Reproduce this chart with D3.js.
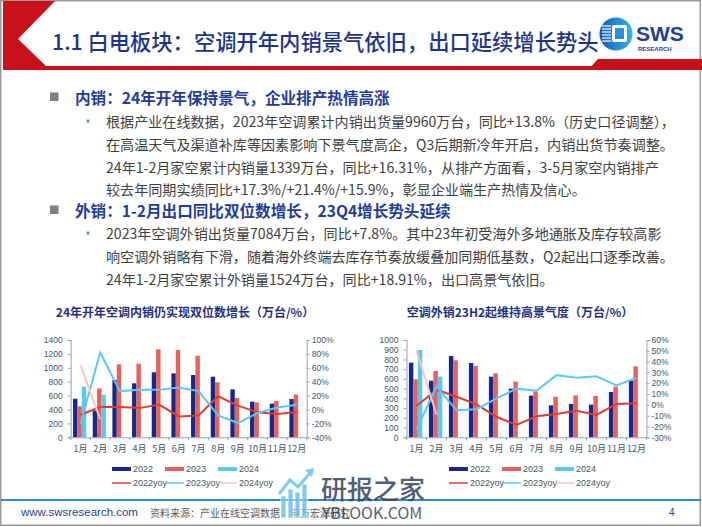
<!DOCTYPE html>
<html>
<head>
<meta charset="utf-8">
<script src="https://cdn.jsdelivr.net/npm/d3@7"></script>
<style>
  body { margin: 0; background: #fff; }
  svg { display: block; }
</style>
</head>
<body>
<script>
const months = ["1月", "2月", "3月", "4月", "5月", "6月", "7月", "8月", "9月", "10月", "11月", "12月"]
const years = ["2022", "2023", "2024"]

// 内销 (万台 / %)
const dom2022 = [555, 385, 825, 777, 935, 920, 896, 872, 690, 513, 484, 551]
const dom2023 = [445, 702, 1050, 1059, 1265, 1256, 1174, 791, 566, 503, 522, 614]
const dom2024 = [729, 610]
const dom2022yoy = [-7.5, 3.5, 3.5, 2, 7, -10, -8.5, 19, 5.5, -4, -6.5, -3.5]
const dom2023yoy = [-20.5, 82, 26.5, 28.5, 28.5, 31.5, 26.5, -8.5, -19.5, -5, 3, 7]
const dom2024yoy = [64, -14]

// 外销 (万台 / %)
const exp2022 = [767, 582, 836, 763, 623, 500, 428, 329, 342, 336, 466, 583]
const exp2023 = [596, 681, 791, 733, 658, 572, 472, 418, 431, 425, 520, 729]
const exp2024 = [897, 624]
const exp2022yoy = [-1, 14, 7.5, 0.5, -11, -18.6, -10.6, -8.5, -5.5, -9.3, 0.8, 1.4]
const exp2023yoy = [-23, 17, -5, -4, 6, 15, 13, 27.5, 25, 26.5, 18, 25]
const exp2024yoy = [50.5, -9]

const barColors = ["#16288a", "#e8605a", "#5cc8f2"]
const lineColors = ["#de3d37", "#5cc8f2", "#f5c6c1"]
const lineNames = ["2022yoy", "2023yoy", "2024yoy"]

const titleText = "1.1 白电板块：空调开年内销景气依旧，出口延续增长势头"
const head1 = "内销：24年开年保持景气，企业排产热情高涨"
const body1 = [
    "根据产业在线数据，2023年空调累计内销出货量9960万台，同比+13.8%（历史口径调整），",
    "在高温天气及渠道补库等因素影响下景气度高企，Q3后期新冷年开启，内销出货节奏调整。",
    "24年1-2月家空累计内销量1339万台，同比+16.31%，从排产方面看，3-5月家空内销排产",
    "较去年同期实绩同比+17.3%/+21.4%/+15.9%，彰显企业端生产热情及信心。",
]
const head2 = "外销：1-2月出口同比双位数增长，23Q4增长势头延续"
const body2 = [
    "2023年空调外销出货量7084万台，同比+7.8%。其中23年初受海外多地通胀及库存较高影",
    "响空调外销略有下滑，随着海外终端去库存节奏放缓叠加同期低基数，Q2起出口逐季改善。",
    "24年1-2月家空累计外销量1524万台，同比+18.91%，出口高景气依旧。",
]

const CJK = "'Noto Sans CJK SC', 'Noto Sans', sans-serif"
const NUM = "'Liberation Sans', 'Noto Sans CJK SC', sans-serif"
const tickColor = "#44546a"
const axisColor = "#8ea3c6"

const svg = d3.select("body").append("svg").attr("width", 702).attr("height", 527)

// ---- header ----
svg.append("rect").attr("x", 0.75).attr("y", 0.75).attr("width", 699.5).attr("height", 524.5)
    .attr("fill", "#fff").attr("stroke", "#9a9a9a").attr("stroke-width", 1.5)

svg.append("path")
    .attr("d", "M3,1 L55,1 L18,39 L46,66 L702,66 L702,70 L3,70 Z")
    .attr("fill", "#c8111a")
svg.append("path")
    .attr("d", "M598,59 L702,59 L702,70 L588,70 Z")
    .attr("fill", "#c8111a")

svg.append("text")
    .attr("x", 52).attr("y", 40)
    .attr("dominant-baseline", "central")
    .attr("font-family", CJK).attr("font-size", 21.3).attr("font-weight", 500)
    .attr("fill", "#1c3588")
    .text(titleText)

// logo
const defs = svg.append("defs")
const grad = defs.append("linearGradient").attr("id", "logoGrad")
grad.append("stop").attr("offset", "0%").attr("stop-color", "#0f5cb8")
grad.append("stop").attr("offset", "100%").attr("stop-color", "#36b3ec")
const logo = svg.append("g")
logo.append("circle").attr("cx", 616).attr("cy", 34).attr("r", 16.5).attr("fill", "url(#logoGrad)")
logo.append("rect").attr("x", 612).attr("y", 25).attr("width", 15).attr("height", 17).attr("rx", 2).attr("fill", "#fff")
logo.append("rect").attr("x", 615).attr("y", 28).attr("width", 9).attr("height", 11).attr("fill", "#2a8fdc")
d3.range(6).forEach((i) => {
    logo.append("line")
        .attr("x1", 602).attr("x2", 611)
        .attr("y1", 26 + i * 3).attr("y2", 26 + i * 3)
        .attr("stroke", "#fff").attr("stroke-width", 1.2)
})
logo.append("text").attr("x", 636).attr("y", 41)
    .attr("font-family", NUM).attr("font-size", 21).attr("font-weight", 700)
    .attr("fill", "#1f3e95").text("SWS")
logo.append("text").attr("x", 638).attr("y", 51)
    .attr("font-family", NUM).attr("font-size", 6).attr("font-weight", 700)
    .attr("fill", "#1f3e95").text("RESEARCH")

// ---- bullets ----
function heading(y, txt) {
    svg.append("rect").attr("x", 50).attr("y", y - 4.5).attr("width", 8.5).attr("height", 8.5).attr("fill", "#7f7f7f")
    svg.append("text").attr("x", 75).attr("y", y)
        .attr("dominant-baseline", "central")
        .attr("font-family", CJK).attr("font-size", 15.6).attr("font-weight", 700)
        .attr("fill", "#1f3c9b").text(txt)
}
function bodyLines(y, lines) {
    svg.append("circle").attr("cx", 88).attr("cy", y).attr("r", 1.8).attr("fill", "#4aaee0")
    lines.forEach((l, i) => {
        svg.append("text").attr("x", 106).attr("y", y + i * 22.8)
            .attr("dominant-baseline", "central")
            .attr("font-family", CJK).attr("font-size", 14.1)
            .attr("fill", "#404040").text(l)
    })
}
heading(97, head1)
bodyLines(121, body1)
heading(210, head2)
bodyLines(233, body2)

// ---- charts ----
function drawChart(o) {
    const g = svg.append("g")
    const x = d3.scaleBand().domain(months).range([o.x0, o.x1])
    const xs = d3.scaleBand().domain(years).range([x.bandwidth() * 0.12, x.bandwidth() * 0.79])
    const yL = d3.scaleLinear().domain([0, o.lMax]).range([o.y1, o.y0])
    const yR = d3.scaleLinear().domain([o.rMin, o.rMax]).range([o.y1, o.y0])

    g.append("text")
        .attr("x", o.titleX).attr("y", 311)
        .attr("text-anchor", "middle").attr("dominant-baseline", "central")
        .attr("font-family", CJK).attr("font-size", 12).attr("font-weight", 700)
        .attr("fill", "#1f2f80").text(o.title)

    o.bars.forEach((vals, i) => {
        g.append("g").selectAll("rect")
            .data(vals)
            .join("rect")
            .attr("x", (d, j) => x(months[j]) + xs(years[i]))
            .attr("y", (d) => yL(d))
            .attr("width", xs.bandwidth())
            .attr("height", (d) => yL(0) - yL(d))
            .attr("fill", barColors[i])
    })

    const styleAxis = (sel) => {
        sel.select(".domain").attr("stroke", axisColor)
        sel.selectAll(".tick line").attr("stroke", axisColor)
        sel.selectAll("text").attr("fill", tickColor).attr("font-family", NUM).attr("font-size", 8.5)
    }

    g.append("g").attr("transform", "translate(" + o.x0 + ",0)")
        .call(d3.axisLeft(yL).tickValues(d3.range(0, o.lMax + 1, o.lStep)).tickSize(3).tickPadding(5).tickFormat(d3.format("d")))
        .call(styleAxis)
    g.append("g").attr("transform", "translate(" + o.x1 + ",0)")
        .call(d3.axisRight(yR).tickValues(d3.range(o.rMin, o.rMax + 1, o.rStep)).tickSize(3).tickPadding(2).tickFormat((d) => d + "%"))
        .call(styleAxis)
    const xa = g.append("g").attr("transform", "translate(0," + o.y1 + ")")
        .call(d3.axisBottom(x).tickSize(0).tickPadding(8))
        .call(styleAxis)
    xa.selectAll("text").attr("font-family", CJK).attr("font-size", 9)
    g.append("g").selectAll("line")
        .data(months.concat([null]))
        .join("line")
        .attr("x1", (d) => (d ? x(d) : o.x1)).attr("x2", (d) => (d ? x(d) : o.x1))
        .attr("y1", o.y1).attr("y2", o.y1 + 3)
        .attr("stroke", axisColor)

    const line = d3.line()
        .x((d, j) => x(months[j]) + x.bandwidth() / 2)
        .y((d) => yR(d))
    o.lines.forEach((vals, i) => {
        g.append("path").datum(vals)
            .attr("d", line)
            .attr("fill", "none")
            .attr("stroke", lineColors[i])
            .attr("stroke-width", 2)
    })

    // legend
    years.forEach((y, i) => {
        const lx = o.legendX + i * 53
        g.append("rect").attr("x", lx).attr("y", 467).attr("width", 19).attr("height", 4).attr("fill", barColors[i])
        g.append("text").attr("x", lx + 21).attr("y", 469)
            .attr("dominant-baseline", "central")
            .attr("font-family", NUM).attr("font-size", 9).attr("fill", tickColor).text(y)
        g.append("line").attr("x1", lx).attr("x2", lx + 19).attr("y1", 483).attr("y2", 483)
            .attr("stroke", lineColors[i]).attr("stroke-width", 1.5)
        g.append("text").attr("x", lx + 21).attr("y", 483)
            .attr("dominant-baseline", "central")
            .attr("font-family", NUM).attr("font-size", 9).attr("fill", tickColor).text(lineNames[i])
    })
}

drawChart({
    x0: 70.7, x1: 306.7, y0: 340, y1: 437.3,
    lMax: 1400, lStep: 200, rMin: -40, rMax: 100, rStep: 20,
    title: "24年开年空调内销仍实现双位数增长（万台/%）", titleX: 185,
    bars: [dom2022, dom2023, dom2024],
    lines: [dom2022yoy, dom2023yoy, dom2024yoy],
    legendX: 112,
})
drawChart({
    x0: 406.5, x1: 646.5, y0: 340, y1: 437.3,
    lMax: 1000, lStep: 100, rMin: -30, rMax: 60, rStep: 10,
    title: "空调外销23H2起维持高景气度（万台/%）", titleX: 520,
    bars: [exp2022, exp2023, exp2024],
    lines: [exp2022yoy, exp2023yoy, exp2024yoy],
    legendX: 449,
})

// ---- footer ----
svg.append("line").attr("x1", 1).attr("x2", 701).attr("y1", 500).attr("y2", 500)
    .attr("stroke", "#2e8bd0").attr("stroke-width", 2)
svg.append("text").attr("x", 21).attr("y", 512)
    .attr("dominant-baseline", "central")
    .attr("font-family", NUM).attr("font-size", 11.5).attr("fill", "#1f3c8a").text("www.swsresearch.com")
svg.append("text").attr("x", 150).attr("y", 512)
    .attr("dominant-baseline", "central")
    .attr("font-family", CJK).attr("font-size", 10).attr("fill", "#595959").text("资料来源：产业在线空调数据，申万宏源研究")
svg.append("text").attr("x", 669).attr("y", 512)
    .attr("dominant-baseline", "central")
    .attr("font-family", NUM).attr("font-size", 10).attr("fill", "#1f3c8a").text("4")

// watermark
const wm = svg.append("g").attr("opacity", 0.85)
;[[281, 496, 8], [288, 489, 15], [295, 492, 12], [302, 484, 20]].forEach((b) => {
    wm.append("rect").attr("x", b[0]).attr("y", b[1]).attr("width", 5).attr("height", b[2] + 14)
        .attr("fill", "#6cc0ec").attr("stroke", "#fff").attr("stroke-width", 0.8)
})
wm.append("polyline").attr("points", "279,494 290,480 298,487 311,472")
    .attr("fill", "none").attr("stroke", "#6cc0ec").attr("stroke-width", 3)
wm.append("path").attr("d", "M305,470 L314,468 L312,477 Z").attr("fill", "#6cc0ec")
wm.append("text").attr("x", 321).attr("y", 487)
    .attr("dominant-baseline", "central")
    .attr("font-family", CJK).attr("font-size", 26).attr("font-weight", 500)
    .attr("fill", "#34435e").text("研报之家")
wm.append("text").attr("x", 322).attr("y", 512)
    .attr("dominant-baseline", "central")
    .attr("font-family", CJK).attr("font-size", 16)
    .attr("fill", "#34435e").text("YBLOOK.COM")
</script>
</body>
</html>
